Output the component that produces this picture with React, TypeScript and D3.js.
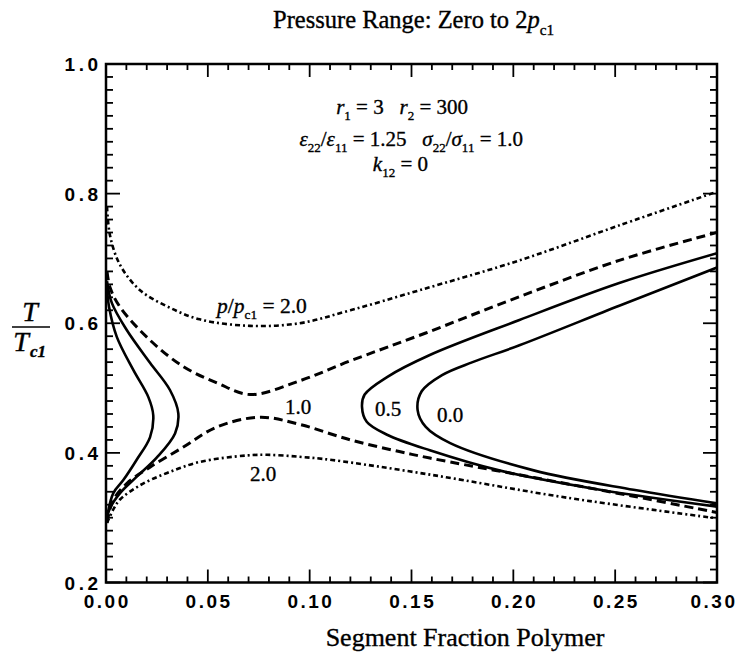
import React from "react";
import * as d3 from "d3";

const W = 740;
const H = 658;

// Axis domains and tick labels
const xDomain = [0, 0.3];
const yDomain = [0.2, 1.0];
const xTickLabels = ["0.00", "0.05", "0.10", "0.15", "0.20", "0.25", "0.30"];
const xTickValues = [0, 0.05, 0.1, 0.15, 0.2, 0.25, 0.3];
const yTickLabels = ["0.2", "0.4", "0.6", "0.8", "1.0"];
const yTickValues = [0.2, 0.4, 0.6, 0.8, 1.0];

// Curves: [segment fraction, T/Tc1]
const p20Upper: [number, number][] = [
  [0.0005, 0.78], [0.002, 0.735], [0.0069, 0.69], [0.0167, 0.651], [0.03, 0.626],
  [0.046, 0.606], [0.0707, 0.596], [0.095, 0.6], [0.12, 0.62], [0.154, 0.651],
  [0.203, 0.697], [0.252, 0.751], [0.3, 0.803],
];
const p20Lower: [number, number][] = [
  [0.0005, 0.292], [0.004, 0.315], [0.0069, 0.328], [0.0167, 0.35], [0.03, 0.369],
  [0.046, 0.386], [0.069, 0.396], [0.079, 0.397], [0.095, 0.394], [0.111, 0.389],
  [0.16, 0.366], [0.226, 0.331], [0.3, 0.299],
];
const p10Upper: [number, number][] = [
  [0.0005, 0.68], [0.002, 0.655], [0.0069, 0.625], [0.0216, 0.574], [0.038, 0.533],
  [0.0545, 0.508], [0.0707, 0.49], [0.095, 0.511], [0.12, 0.542], [0.157, 0.585],
  [0.203, 0.641], [0.252, 0.697], [0.3, 0.74],
];
const p10Lower: [number, number][] = [
  [0.0005, 0.292], [0.0034, 0.326], [0.0103, 0.353], [0.0216, 0.378], [0.038, 0.409],
  [0.0545, 0.44], [0.0756, 0.455], [0.095, 0.444], [0.12, 0.42], [0.144, 0.402],
  [0.159, 0.392], [0.21, 0.362], [0.259, 0.333], [0.3, 0.308],
];
const p05Left: [number, number][] = [
  [0.0005, 0.665], [0.0029, 0.631], [0.0101, 0.59], [0.0216, 0.539], [0.0314, 0.497],
  [0.0355, 0.461], [0.0339, 0.43], [0.025, 0.393], [0.015, 0.363], [0.0069, 0.338],
  [0.002, 0.315], [0.0005, 0.3],
];
const p00Left: [number, number][] = [
  [0.0003, 0.66], [0.0015, 0.625], [0.0053, 0.579], [0.0134, 0.528], [0.0208, 0.486],
  [0.0232, 0.458], [0.0216, 0.424], [0.015, 0.389], [0.0085, 0.358], [0.0036, 0.338],
  [0.0005, 0.3],
];
const p05Right: [number, number][] = [
  [0.3, 0.708], [0.252, 0.662], [0.203, 0.605], [0.159, 0.551], [0.138, 0.517],
  [0.127, 0.49], [0.1257, 0.471], [0.128, 0.448], [0.138, 0.428], [0.159, 0.404],
  [0.193, 0.373], [0.2425, 0.343], [0.3, 0.317],
];
const p00Right: [number, number][] = [
  [0.3, 0.686], [0.252, 0.627], [0.203, 0.566], [0.18, 0.54], [0.165, 0.52],
  [0.155, 0.495], [0.153, 0.466], [0.157, 0.44], [0.169, 0.415], [0.21, 0.373],
  [0.259, 0.343], [0.3, 0.322],
];

const solidCurves = [p05Left, p00Left, p05Right, p00Right];
const dashedCurves = [p10Upper, p10Lower];
const dashDotCurves = [p20Upper, p20Lower];

type Part = { t: string; it?: boolean; sub?: boolean };

const serif = "'Liberation Serif', 'Times New Roman', serif";

function Rich({
  parts, x, y, size, anchor = "start", bold = 0.35,
}: { parts: Part[]; x: number; y: number; size: number; anchor?: string; bold?: number }) {
  let shift = 0;
  return (
    <text
      x={x}
      y={y}
      fontFamily={serif}
      fontSize={size}
      textAnchor={anchor}
      fill="#000"
      stroke="#000"
      strokeWidth={bold}
      xmlSpace="preserve"
      style={{ whiteSpace: "pre" }}
    >
      {parts.map((p, i) => {
        const target = p.sub ? size * 0.28 : 0;
        const dy = target - shift;
        shift = target;
        return (
          <tspan key={i} dy={dy} fontStyle={p.it ? "italic" : "normal"} fontSize={p.sub ? size * 0.62 : size}>
            {p.t}
          </tspan>
        );
      })}
    </text>
  );
}

export default function App() {
  const x = d3.scaleLinear().domain(xDomain).range([106, 717]);
  const y = d3.scaleLinear().domain(yDomain).range([582.5, 64]);
  const line = d3
    .line<[number, number]>()
    .x((d) => x(d[0]))
    .y((d) => y(d[1]))
    .curve(d3.curveCatmullRom.alpha(0.5));

  const xMinor = d3.range(0, 31).map((i) => i / 100);
  const yMinor = d3.range(0, 41).map((i) => 0.2 + i * 0.02);
  const x0 = x(0), x1 = x(0.3), y0 = y(0.2), y1 = y(1.0);
  const tickFont = "'Liberation Sans', Arial, sans-serif";
  const xLs = 2.5;
  const yLs = 3.5;

  return (
    <svg width={W} height={H} style={{ position: "absolute", left: 0, top: 0, background: "#fff" }}>
      <defs>
        <clipPath id="plot">
          <rect x={x0} y={y1} width={x1 - x0} height={y0 - y1} />
        </clipPath>
      </defs>
      <rect width={W} height={H} fill="#fff" />

      {/* title */}
      <Rich
        x={273}
        y={28}
        size={24.5}
        parts={[{ t: "Pressure Range: Zero to 2" }, { t: "p", it: true }, { t: "c1", sub: true }]}
      />

      {/* curves */}
      <g clipPath="url(#plot)" fill="none" stroke="#000">
        {solidCurves.map((c, i) => (
          <path key={"s" + i} d={line(c) || ""} strokeWidth={2.6} />
        ))}
        {dashedCurves.map((c, i) => (
          <path key={"d" + i} d={line(c) || ""} strokeWidth={3} strokeDasharray="9,5" />
        ))}
        {dashDotCurves.map((c, i) => (
          <path key={"dd" + i} d={line(c) || ""} strokeWidth={2.6} strokeDasharray="5,3,2,3" />
        ))}
      </g>

      {/* frame */}
      <rect x={x0} y={y1} width={x1 - x0} height={y0 - y1} fill="none" stroke="#000" strokeWidth={2.5} />

      {/* ticks on all four sides */}
      <g stroke="#000" strokeWidth={1.8}>
        {xMinor.map((v, i) => {
          const major = i % 5 === 0;
          const len = major ? 13 : 6;
          return (
            <g key={"xt" + i}>
              <line x1={x(v)} x2={x(v)} y1={y0} y2={y0 - len} />
              <line x1={x(v)} x2={x(v)} y1={y1} y2={y1 + len} />
            </g>
          );
        })}
        {yMinor.map((v, i) => {
          const major = i % 10 === 0;
          const len = major ? 14 : 7;
          return (
            <g key={"yt" + i}>
              <line x1={x0} x2={x0 + len} y1={y(v)} y2={y(v)} />
              <line x1={x1} x2={x1 - len} y1={y(v)} y2={y(v)} />
            </g>
          );
        })}
      </g>

      {/* tick labels */}
      <g fontFamily={tickFont} fontWeight="bold" fontSize={19} fill="#000">
        {xTickValues.map((v, i) => (
          <text
            key={"xl" + i}
            x={i === xTickValues.length - 1 ? x(v) - 3 : x(v) + xLs / 2}
            y={608}
            textAnchor="middle"
            letterSpacing={xLs}
          >
            {xTickLabels[i]}
          </text>
        ))}
        {yTickValues.map((v, i) => (
          <text key={"yl" + i} x={98 + yLs} y={y(v) + 7} textAnchor="end" letterSpacing={yLs}>
            {yTickLabels[i]}
          </text>
        ))}
      </g>

      {/* axis titles */}
      <text x={465} y={646} textAnchor="middle" fontFamily={serif} fontSize={26} stroke="#000" strokeWidth={0.35}>
        Segment Fraction Polymer
      </text>
      <g fontFamily={serif} fontStyle="italic" stroke="#000" strokeWidth={0.4}>
        <text x={30} y={321} textAnchor="middle" fontSize={28}>T</text>
        <line x1={12} x2={50} y1={327} y2={327} stroke="#000" strokeWidth={1.6} />
        <text x={21} y={351} textAnchor="middle" fontSize={28}>T</text>
        <text x={30} y={357} fontSize={17} fontWeight="bold">c1</text>
      </g>

      {/* parameter annotation */}
      <Rich
        x={468}
        y={114}
        size={21}
        anchor="end"
        parts={[
          { t: "r", it: true }, { t: "1", sub: true }, { t: " = 3   " },
          { t: "r", it: true }, { t: "2", sub: true }, { t: " = 300" },
        ]}
      />
      <Rich
        x={523}
        y={146}
        size={21}
        anchor="end"
        parts={[
          { t: "ε", it: true }, { t: "22", sub: true }, { t: "/" },
          { t: "ε", it: true }, { t: "11", sub: true }, { t: " = 1.25   " },
          { t: "σ", it: true }, { t: "22", sub: true }, { t: "/" },
          { t: "σ", it: true }, { t: "11", sub: true }, { t: " = 1.0" },
        ]}
      />
      <Rich
        x={428}
        y={171}
        size={21}
        anchor="end"
        parts={[{ t: "k", it: true }, { t: "12", sub: true }, { t: " = 0" }]}
      />

      {/* curve labels */}
      <Rich
        x={217}
        y={313}
        size={21.5}
        parts={[
          { t: "p", it: true }, { t: "/" }, { t: "p", it: true }, { t: "c1", sub: true }, { t: " = 2.0" },
        ]}
      />
      <Rich x={285} y={414} size={21} parts={[{ t: "1.0" }]} />
      <Rich x={375} y={416} size={21} parts={[{ t: "0.5" }]} />
      <Rich x={437} y={422} size={21} parts={[{ t: "0.0" }]} />
      <Rich x={250} y={481} size={21} parts={[{ t: "2.0" }]} />
    </svg>
  );
}
